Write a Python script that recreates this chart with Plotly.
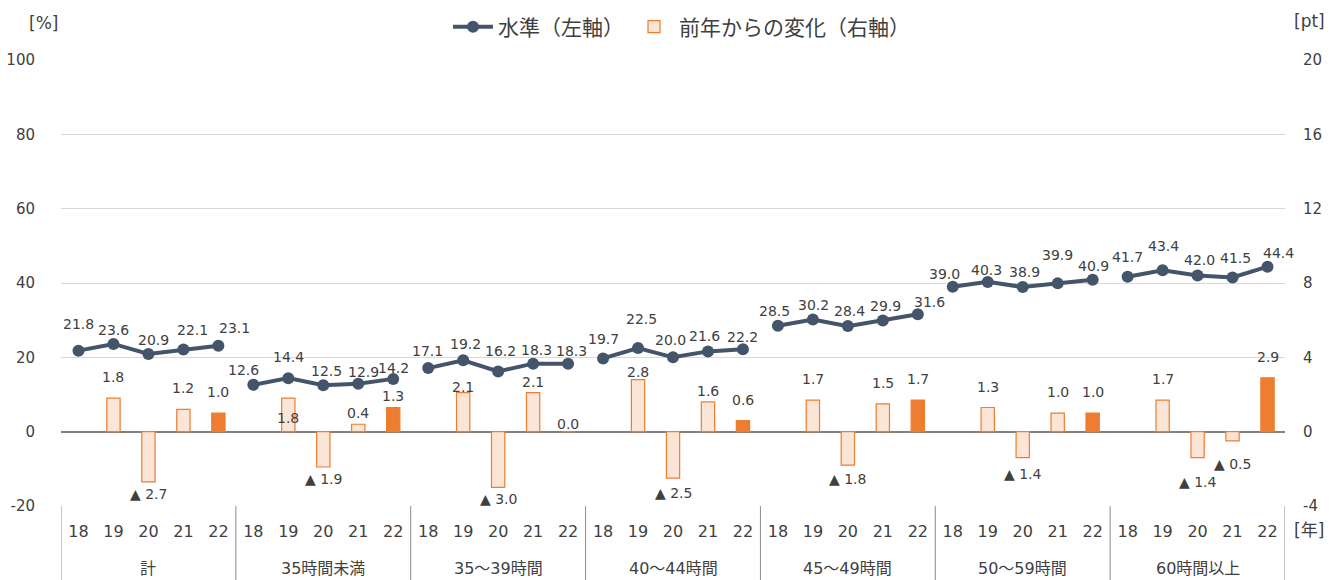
import plotly.graph_objects as go

# ---------------- data ----------------
groups = ["計", "35時間未満", "35～39時間", "40～44時間", "45～49時間", "50～59時間", "60時間以上"]
years = ["18", "19", "20", "21", "22"]

level_total = [21.8, 23.6, 20.9, 22.1, 23.1]
level_lt35 = [12.6, 14.4, 12.5, 12.9, 14.2]
level_35_39 = [17.1, 19.2, 16.2, 18.3, 18.3]
level_40_44 = [19.7, 22.5, 20.0, 21.6, 22.2]
level_45_49 = [28.5, 30.2, 28.4, 29.9, 31.6]
level_50_59 = [39.0, 40.3, 38.9, 39.9, 40.9]
level_60p = [41.7, 43.4, 42.0, 41.5, 44.4]

change_total = [None, 1.8, -2.7, 1.2, 1.0]
change_lt35 = [None, 1.8, -1.9, 0.4, 1.3]
change_35_39 = [None, 2.1, -3.0, 2.1, 0.0]
change_40_44 = [None, 2.8, -2.5, 1.6, 0.6]
change_45_49 = [None, 1.7, -1.8, 1.5, 1.7]
change_50_59 = [None, 1.3, -1.4, 1.0, 1.0]
change_60p = [None, 1.7, -1.4, -0.5, 2.9]

left_ticks = [-20, 0, 20, 40, 60, 80, 100]
right_ticks = [-4, 0, 4, 8, 12, 16, 20]

levels = [level_total, level_lt35, level_35_39, level_40_44, level_45_49, level_50_59, level_60p]
changes = [change_total, change_lt35, change_35_39, change_40_44, change_45_49, change_50_59, change_60p]

# ---------------- label placement (style, pixels) ----------------
level_lab_dy = [27, 14, 14, 20, 18,
                15, 21, 14, 12, 11,
                17, 16, 20, 14, 13,
                19, 29, 17, 15, 12,
                15, 14, 15, 15, 12,
                13, 12, 15, 28, 14,
                20, 24, 16, 19, 14]
level_lab_dx = [0, 0, 5, 9, 16,
                -10, 0, 3, 5, 0,
                -1, 2, 2, 3, 3,
                0, 3, -3, -3, 0,
                -3, 1, 2, 3, 12,
                -8, -1, 2, 0, 1,
                0, 1, 2, 3, 11]
# offset of change labels from bar end (positive = further away from zero)
change_lab_d = [0, 21, 12, 21, 21,
                0, -20, 12, 11, 12,
                0, 6, 12, 11, 8,
                0, 8, 15, 11, 21,
                0, 21, 14, 21, 21,
                0, 21, 16, 21, 21,
                0, 21, 24, 23, 21]

NAVY = "#44546A"
ORANGE = "#ED7D31"
LIGHT = "#FBE5D6"
TXT = "#404040"
FONT = "DejaVu Sans, Noto Sans CJK JP, sans-serif"

n_g = len(groups)
n_y = len(years)

# line (gaps between groups)
lx, ly = [], []
for g in range(n_g):
    for j in range(n_y):
        lx.append(g * n_y + j)
        ly.append(levels[g][j])
    lx.append(g * n_y + n_y - 0.5)
    ly.append(None)

# bars
bx_l, by_l, bx_d, by_d = [], [], [], []
for g in range(n_g):
    for j in range(n_y):
        v = changes[g][j]
        if v is None:
            continue
        if j == n_y - 1:
            bx_d.append(g * n_y + j)
            by_d.append(v)
        else:
            bx_l.append(g * n_y + j)
            by_l.append(v)

fig = go.Figure()
fig.add_trace(go.Bar(x=bx_l, y=by_l, yaxis="y2", width=0.38,
                     marker=dict(color=LIGHT, line=dict(color=ORANGE, width=1.2)),
                     name="前年からの変化（右軸）"))
fig.add_trace(go.Bar(x=bx_d, y=by_d, yaxis="y2", width=0.38,
                     marker=dict(color=ORANGE, line=dict(color=ORANGE, width=1.2)),
                     name="前年からの変化（右軸）", showlegend=False))
fig.add_trace(go.Scatter(x=lx, y=ly, mode="lines+markers", connectgaps=False,
                         line=dict(color=NAVY, width=4),
                         marker=dict(color=NAVY, size=12),
                         name="水準（左軸）"))

ann = []
for g in range(n_g):
    for j in range(n_y):
        i = g * n_y + j
        v = levels[g][j]
        ann.append(dict(x=i, y=v, xref="x", yref="y", text=f"{v:.1f}", showarrow=False,
                        yshift=level_lab_dy[i], xshift=level_lab_dx[i],
                        font=dict(size=14, color=TXT, family=FONT)))
        c = changes[g][j]
        if c is None:
            continue
        d = change_lab_d[i]
        if c < 0:
            txt = f"▲ {abs(c):.1f}"
            ys = -d
        else:
            txt = f"{c:.1f}"
            ys = d
        ann.append(dict(x=i, y=c, xref="x", yref="y2", text=txt, showarrow=False,
                        yshift=ys, font=dict(size=14, color=TXT, family=FONT)))

L, R, T, B = 61, 55, 60, 74
W, H = 1340, 580
pw, ph = W - L - R, H - T - B


def px2paper(px, py):
    return (px - L) / pw, (H - B - py) / ph


# group labels
_, gy = px2paper(0, 568)
for g in range(n_g):
    ann.append(dict(x=g * n_y + 2, y=gy, xref="x", yref="paper", text=groups[g],
                    showarrow=False, yanchor="middle",
                    font=dict(size=16, color=TXT, family=FONT)))

# unit labels
for txt, px, py in [("[%]", 43, 23), ("[pt]", 1309, 21), ("[年]", 1309, 530)]:
    xp, yp = px2paper(px, py)
    ann.append(dict(x=xp, y=yp, xref="paper", yref="paper", text=txt, showarrow=False,
                    xanchor="center", yanchor="middle",
                    font=dict(size=17, color=TXT, family=FONT)))

shapes = []
for g in range(n_g + 1):
    xb = g * n_y - 0.5
    shapes.append(dict(type="line", xref="x", yref="paper", x0=xb, x1=xb,
                       y0=0, y1=-(B / ph), line=dict(color="#8C8C8C", width=1)))

ticks_x = list(range(n_g * n_y))
ticktext_x = [years[i % n_y] for i in ticks_x]

lgx, lgy = px2paper(448, 27)

fig.update_layout(
    width=W, height=H,
    margin=dict(l=L, r=R, t=T, b=B, autoexpand=False),
    paper_bgcolor="white", plot_bgcolor="white",
    font=dict(family=FONT, color=TXT, size=15),
    barmode="overlay",
    showlegend=True,
    legend=dict(orientation="h", x=lgx, xanchor="left",
                y=lgy, yanchor="middle",
                font=dict(size=21, color=TXT, family=FONT),
                traceorder="reversed", itemwidth=40, bgcolor="rgba(0,0,0,0)"),
    xaxis=dict(range=[-0.5, n_g * n_y - 0.5], tickmode="array", tickvals=ticks_x,
               ticktext=ticktext_x, showgrid=False, zeroline=False, ticks="",
               automargin=False,
               ticklabelstandoff=14, tickfont=dict(size=16, color=TXT, family=FONT),
               fixedrange=True),
    yaxis=dict(range=[-20, 100], tickmode="array", tickvals=left_ticks,
               ticktext=[str(t) for t in left_ticks], automargin=False,
               showgrid=True, gridcolor="#D9D9D9", gridwidth=1,
               zeroline=True, zerolinecolor="#808080", zerolinewidth=1.5,
               ticklabelstandoff=25, tickfont=dict(size=15, color=TXT, family=FONT)),
    yaxis2=dict(range=[-4, 20], tickmode="array", tickvals=right_ticks,
                ticktext=[str(t) for t in right_ticks], automargin=False,
                overlaying="y", side="right", showgrid=False, zeroline=False,
                ticklabelstandoff=17, tickfont=dict(size=15, color=TXT, family=FONT)),
    annotations=ann,
    shapes=shapes,
)

fig.write_html("out.html", config={"displayModeBar": False},
               post_script="document.body.style.margin='0';")
